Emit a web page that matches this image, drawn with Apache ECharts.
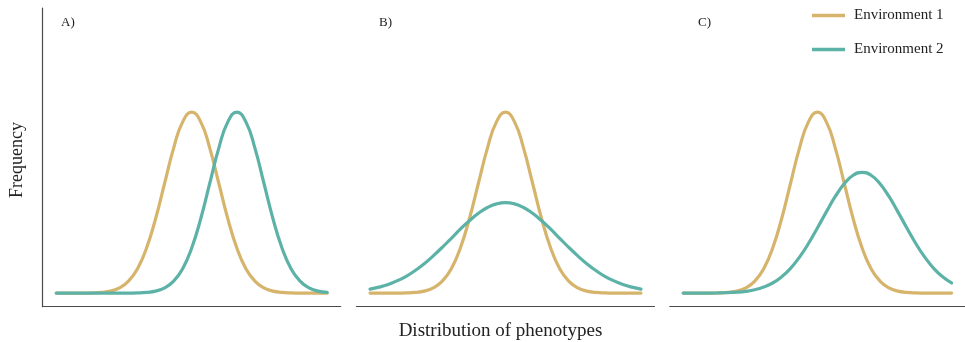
<!DOCTYPE html>
<html>
<head>
<meta charset="utf-8">
<script src="https://cdn.jsdelivr.net/npm/echarts@6/dist/echarts.min.js"></script>
<style>html,body{margin:0;padding:0;background:#fff}#c{width:965px;height:342px}</style>
</head>
<body>
<div id="c"></div>
<script>
// Phenotype positions (x) and relative frequencies
var xs = [-3.0,-2.8,-2.6,-2.4,-2.2,-2.0,-1.8,-1.6,-1.4,-1.2,-1.0,-0.8,-0.6,-0.4,-0.2,0.0,
          0.2,0.4,0.6,0.8,1.0,1.2,1.4,1.6,1.8,2.0,2.2,2.4,2.6,2.8,3.0];
var panelLabels = ['A)', 'B)', 'C)'];
var seriesNames = ['Environment 1', 'Environment 2'];

var env1A = [0,0,0,0,0.001,0.004,0.011,0.029,0.066,0.135,0.249,0.411,0.607,0.801,0.946,1,
             0.946,0.801,0.607,0.411,0.249,0.135,0.066,0.029,0.011,0.004,0.001,0,0,0,0];
var env2A = [0,0,0,0,0,0,0,0,0,0.001,0.004,0.011,0.029,0.066,0.135,0.249,
             0.411,0.607,0.801,0.946,1,0.946,0.801,0.607,0.411,0.249,0.135,0.066,0.029,0.011,0.004];
var env1B = [0,0,0,0,0.001,0.004,0.011,0.029,0.066,0.135,0.249,0.411,0.607,0.801,0.946,1,
             0.946,0.801,0.607,0.411,0.249,0.135,0.066,0.029,0.011,0.004,0.001,0,0,0,0];
var env2B = [0.022,0.033,0.048,0.068,0.093,0.125,0.162,0.206,0.253,0.303,0.353,0.400,0.441,0.473,0.493,0.5,
             0.493,0.473,0.441,0.400,0.353,0.303,0.253,0.206,0.162,0.125,0.093,0.068,0.048,0.033,0.022];
var env1C = [0,0,0,0,0.001,0.004,0.011,0.029,0.066,0.135,0.249,0.411,0.607,0.801,0.946,1,
             0.946,0.801,0.607,0.411,0.249,0.135,0.066,0.029,0.011,0.004,0.001,0,0,0,0];
var env2C = [0,0,0,0,0.001,0.003,0.005,0.010,0.019,0.034,0.056,0.090,0.137,0.199,0.274,0.360,
             0.449,0.534,0.604,0.651,0.667,0.651,0.604,0.534,0.449,0.360,0.274,0.199,0.137,0.090,0.056];

var panels = [[env1A, env2A], [env1B, env2B], [env1C, env2C]];
var colors = ['#D6B46C', '#5DB2A7'];
var serif = '"Liberation Serif", "DejaVu Serif", serif';

function pairs(arr) { return xs.map(function (x, i) { return [x, arr[i]]; }); }

var gridLefts = [42.7, 356.5, 669.8];
var grids = [], xAxes = [], yAxes = [], series = [];
for (var p = 0; p < 3; p++) {
  grids.push({ left: gridLefts[p], width: 298, top: 8, height: 298.7 });
  xAxes.push({ type: 'value', gridIndex: p, min: -3.3, max: 3.3,
    axisLine: { show: true, onZero: false, lineStyle: { color: '#4a4a4a', width: 1.2 } },
    axisTick: { show: false }, axisLabel: { show: false }, splitLine: { show: false } });
  yAxes.push({ type: 'value', gridIndex: p, min: -0.075, max: 1.575,
    axisLine: { show: p === 0, onZero: false, lineStyle: { color: '#4a4a4a', width: 1.2 } },
    axisTick: { show: false }, axisLabel: { show: false }, splitLine: { show: false } });
  for (var s = 0; s < 2; s++) {
    series.push({ type: 'line', name: seriesNames[s], xAxisIndex: p, yAxisIndex: p,
      data: pairs(panels[p][s]), smooth: true, showSymbol: false, symbol: 'none',
      lineStyle: { color: colors[s], width: 3.2, cap: 'round' }, itemStyle: { color: colors[s] },
      z: 2 + s, animation: false });
  }
}

var chart = echarts.init(document.getElementById('c'), null, { renderer: 'canvas' });
chart.setOption({
  animation: false,
  backgroundColor: '#ffffff',
  grid: grids, xAxis: xAxes, yAxis: yAxes, series: series,
  legend: {
    data: seriesNames, orient: 'vertical', left: 807, top: 3,
    icon: 'rect', itemWidth: 33, itemHeight: 3.5, itemGap: 19,
    textStyle: { fontFamily: serif, fontSize: 15, color: '#222', padding: [0, 0, 0, 4] }
  },
  graphic: [
    { type: 'text', left: 61, top: 16, style: { text: panelLabels[0], font: '13px ' + serif, fill: '#222' } },
    { type: 'text', left: 379, top: 16, style: { text: panelLabels[1], font: '13px ' + serif, fill: '#222' } },
    { type: 'text', left: 698, top: 16, style: { text: panelLabels[2], font: '13px ' + serif, fill: '#222' } },
    { type: 'text', x: 17, y: 160, rotation: Math.PI / 2,
      style: { text: 'Frequency', font: '18px ' + serif, fill: '#222', align: 'center', verticalAlign: 'middle' } },
    { type: 'text', x: 500.5, y: 331, style: { text: 'Distribution of phenotypes', font: '19px ' + serif, fill: '#222', align: 'center', verticalAlign: 'middle' } }
  ]
});
</script>
</body>
</html>
